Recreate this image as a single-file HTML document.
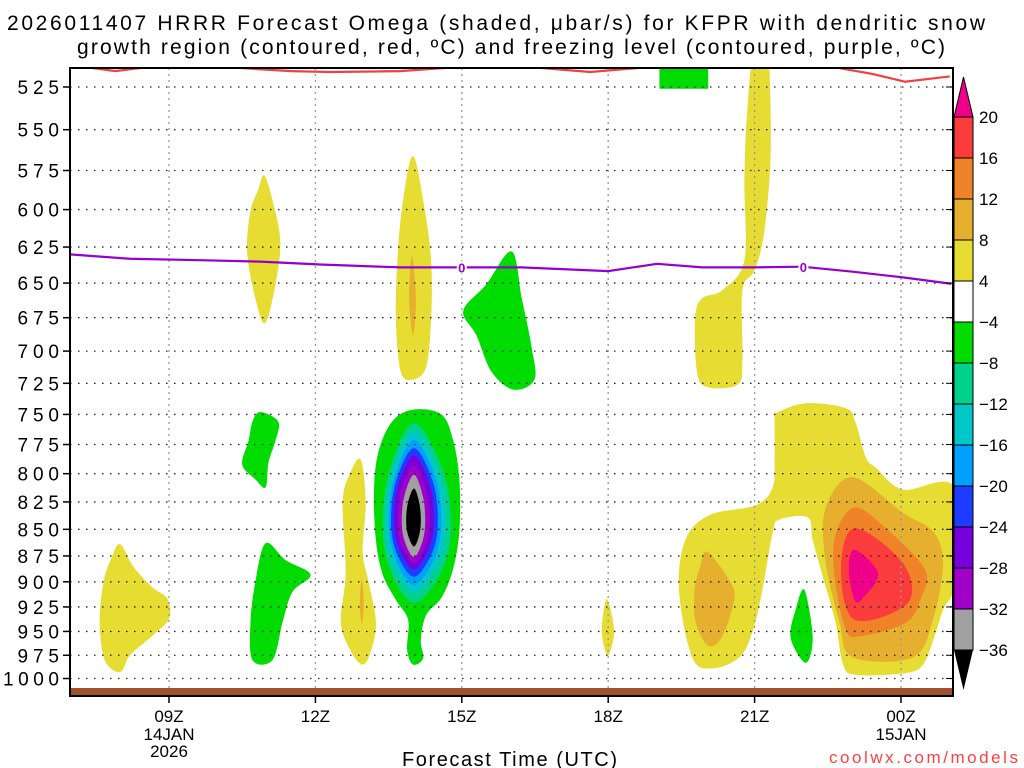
<!DOCTYPE html>
<html><head><meta charset="utf-8">
<style>
html,body{margin:0;padding:0;background:#fff;}
svg{display:block;font-family:"Liberation Sans",sans-serif;}
</style></head>
<body>
<svg id="chart" width="1024" height="768" viewBox="0 0 1024 768" xmlns="http://www.w3.org/2000/svg">
<text x="7" y="30" font-size="21" textLength="978" lengthAdjust="spacing">2026011407 HRRR Forecast Omega (shaded, μbar/s) for KFPR with dendritic snow</text>
<text x="77" y="54" font-size="21" textLength="868" lengthAdjust="spacing">growth region (contoured, red, ºC) and freezing level (contoured, purple, ºC)</text>
<defs><clipPath id="pc"><rect x="70" y="68" width="883" height="628"/></clipPath></defs>
<g id="fills" clip-path="url(#pc)"></g>
<g id="grid"></g>
<g id="lines" clip-path="url(#pc)"></g>
<g id="axes"></g>
<g id="cbar"></g>
<text x="402" y="766" font-size="20" textLength="215" lengthAdjust="spacing">Forecast Time (UTC)</text>
<text x="829" y="763" font-size="17" fill="#ff4040" textLength="189" lengthAdjust="spacing">coolwx.com/models</text>
</svg>
<script>
// ---- data ----
const pressureTicks=[525,550,575,600,625,650,675,700,725,750,775,800,825,850,875,900,925,950,975,1000];
const hourTicks=[9,12,15,18,21,24];
const hourLabels=["09Z","12Z","15Z","18Z","21Z","00Z"];
const cbarLabels=["20","16","12","8","4","-4","-8","-12","-16","-20","-24","-28","-32","-36"];
const cbarColors=["#fa3c3c","#f08228","#e6af2d","#e6dc32","#ffffff","#00dc00","#00d28c","#00c8c8","#00a0ff","#1e3cff","#7800dc","#a000c8","#a0a0a0"];
const shapes=[
 {c:"#e6dc32",n:"omega-pos-08z",pts:[[8.0,864],[8.28,886],[8.65,905],[8.97,917],[9.0,937],[8.65,955],[8.2,975],[8.0,993],[7.68,980],[7.58,940],[7.66,900],[7.83,876]]},
 {c:"#e6dc32",n:"omega-pos-11z-upper",pts:[[10.95,578],[11.12,594],[11.28,621],[11.18,651],[10.97,679],[10.77,661],[10.6,628],[10.67,601],[10.83,587]]},
 {c:"#e6dc32",n:"omega-pos-14z-upper",pts:[[14.0,566],[14.21,594],[14.37,634],[14.37,676],[14.27,712],[14.0,722],[13.75,716],[13.65,676],[13.69,628],[13.81,591]]},
 {c:"#e6af2d",n:"omega-pos-14z-core",pts:[[13.98,631],[14.06,661],[14.0,688],[13.92,661]]},
 {c:"#00dc00",n:"omega-neg-16z",pts:[[16.02,628],[16.23,661],[16.43,697],[16.49,722],[16.06,730],[15.61,716],[15.3,688],[15.03,670],[15.5,651]]},
 {c:"#00dc00",n:"omega-neg-11z-mid",pts:[[10.87,748],[11.24,756],[11.18,772],[11.04,790],[10.98,812],[10.77,805],[10.5,792],[10.63,772],[10.71,756]]},
 {c:"#00dc00",n:"omega-neg-11z-low",pts:[[10.98,863],[11.39,879],[11.9,893],[11.53,910],[11.33,940],[11.12,980],[10.71,980],[10.67,940],[10.77,900]]},
 {c:"#e6dc32",n:"omega-pos-13z",pts:[[12.93,788],[13.03,825],[12.97,871],[13.09,900],[13.24,940],[13.14,970],[12.97,985],[12.72,970],[12.52,940],[12.62,891],[12.56,825],[12.72,799]]},
 {c:"#e6af2d",n:"omega-pos-13z-core",pts:[[12.95,898],[12.99,920],[12.95,942],[12.91,920]]},
 {c:"#00dc00",n:"omega-neg-14z-outer",pts:[[14.02,746],[14.58,750],[14.82,771],[14.95,805],[14.95,851],[14.82,888],[14.58,916],[14.27,933],[14.16,959],[14.21,978],[14.0,985],[13.88,969],[13.9,938],[13.65,918],[13.38,893],[13.24,860],[13.2,814],[13.3,780],[13.59,755]]},
 {c:"#e6dc32",n:"omega-pos-22z",pts:[[21.43,749],[22.05,741],[22.87,745],[23.07,757],[23.28,786],[23.49,795],[24.04,814],[25.1,812],[25.1,900],[24.86,928],[24.66,959],[24.45,985],[24.1,994],[23.07,996],[22.81,984],[22.66,941],[22.4,895],[22.19,860],[22.09,839],[21.51,841],[21.37,853],[21.16,908],[20.96,950],[20.69,977],[20.13,989],[19.72,977],[19.45,908],[19.58,860],[20.07,837],[21.02,828],[21.37,812],[21.41,786],[21.41,752]]},
 {c:"#e6af2d",n:"omega-pos-20z-core",pts:[[20.03,871],[20.5,900],[20.58,918],[20.34,955],[20.05,965],[19.79,940],[19.77,908],[19.88,886]]},
 {c:"#e6af2d",n:"omega-pos-23z-8",pts:[[23.01,803],[24.04,835],[24.66,852],[24.86,882],[24.66,937],[24.25,977],[23.01,977],[22.74,941],[22.44,876],[22.46,830]]},
 {c:"#f08228",n:"omega-pos-23z-12",pts:[[23.05,830],[23.69,849],[24.49,888],[24.41,916],[24.1,941],[23.16,955],[22.87,948],[22.64,895],[22.66,855]]},
 {c:"#fa3c3c",n:"omega-pos-23z-16",pts:[[23.05,849],[24.04,882],[24.14,921],[23.05,938],[22.77,888]]},
 {c:"#f0008a",n:"omega-pos-23z-20",pts:[[23.05,869],[23.53,892],[23.22,916],[23.05,918],[22.93,888]]},
 {c:"#00dc00",n:"omega-neg-22z",pts:[[22.02,908],[22.19,956],[22.05,983],[21.74,957],[21.84,928]]},
 {c:"#e6dc32",n:"omega-pos-18z",pts:[[17.97,917],[18.12,950],[17.99,975],[17.87,950]]},
 {c:"#e6dc32",n:"omega-pos-21z-plume",pts:[[21.0,500],[21.26,500],[21.33,562],[21.2,614],[21.0,641],[20.75,655],[20.75,707],[20.65,726],[20.03,728],[19.82,716],[19.78,676],[19.92,661],[20.34,655],[20.79,634],[20.79,581],[20.85,538]]}
];
// nested rings of the 14Z ascent core: [top p, bottom p, left hour, right hour]
const ringCenter=14.02;
const ringTop=[757,764,771,778,784,793,801,813];
const ringBot=[921,911,903,895,888,882,876,866];
const ringLeft=[13.38,13.44,13.51,13.55,13.61,13.69,13.77,13.86];
const ringRight=[14.78,14.68,14.58,14.51,14.43,14.33,14.25,14.16];
const ringColors=["#00d28c","#00c8c8","#00a0ff","#1e3cff","#7800dc","#a000c8","#a0a0a0","#000000"];
const greenBox={h0:19.05,h1:20.05,p0:500,p1:526};
const redSegs=[
 [[7.36,514],[7.9,516],[8.49,514]],
 [[10.31,514],[11.5,516],[12.3,516.5],[13.73,516],[15.05,513.5]],
 [[16.52,514],[17.63,516.5],[18.71,514]],
 [[22.67,514],[23.4,517.5],[24.08,522],[25.0,519]]
];
const frzHours=[6.96,8.2,9.64,10.87,12.1,13.75,14.99,16.22,18.0,19.0,19.93,21.0,21.98,23.01,24.04,25.03];
const frzPres=[630,633,634,635,637,639,639,639,641.6,636.5,639,639,638.5,642,646,650.5];
const frzLabelHours=[15.0,22.0];

// ---- scales ----
const X=h=>169+(h-9)*48.8;
const Y=p=>87+Math.log(p/525)*918;
const NS="http://www.w3.org/2000/svg";
function mk(tag,parent){const e=document.createElementNS(NS,tag);parent.appendChild(e);return e;}
function smooth(pts){
 const P=pts.map(q=>[X(q[0]),Y(q[1])]);const n=P.length;let d="M"+P[0][0].toFixed(1)+","+P[0][1].toFixed(1);
 for(let i=0;i<n;i++){const p0=P[(i-1+n)%n],p1=P[i],p2=P[(i+1)%n],p3=P[(i+2)%n];
  const c1=[p1[0]+(p2[0]-p0[0])/6,p1[1]+(p2[1]-p0[1])/6],c2=[p2[0]-(p3[0]-p1[0])/6,p2[1]-(p3[1]-p1[1])/6];
  d+="C"+c1[0].toFixed(1)+","+c1[1].toFixed(1)+" "+c2[0].toFixed(1)+","+c2[1].toFixed(1)+" "+p2[0].toFixed(1)+","+p2[1].toFixed(1);}
 return d+"Z";}
const fills=document.getElementById('fills');
shapes.forEach(s=>{const e=mk('path',fills);e.setAttribute('d',smooth(s.pts));e.setAttribute('fill',s.c);
 
 
 if(s.n==='omega-neg-14z-outer'){
  ringTop.forEach((t,i)=>{const b=ringBot[i],mid=(t+b)/2+(b-t)*0.04;
   const hr=ringCenter+(ringRight[i]-ringCenter)*0.78,hl=ringCenter+(ringLeft[i]-ringCenter)*0.78;
   const r=mk('path',fills);r.setAttribute('d',smooth([[ringCenter,t],[hr,t+(mid-t)*0.45],[ringRight[i],mid],[hr,mid+(b-mid)*0.55],[ringCenter,b],[hl,mid+(b-mid)*0.55],[ringLeft[i],mid],[hl,t+(mid-t)*0.45]]));
   r.setAttribute('fill',ringColors[i]);
   
   });
 }});
{const r=mk('rect',fills);r.setAttribute('x',X(greenBox.h0));r.setAttribute('y',Y(greenBox.p0));r.setAttribute('width',X(greenBox.h1)-X(greenBox.h0));r.setAttribute('height',Y(greenBox.p1)-Y(greenBox.p0));r.setAttribute('fill','#00dc00');
 
 }
{const r=mk('rect',fills);r.setAttribute('x',70);r.setAttribute('y',688);r.setAttribute('width',883);r.setAttribute('height',8);r.setAttribute('fill','#a0522d');
 
 }
// grid
const grid=document.getElementById('grid');
pressureTicks.forEach(p=>{const l=mk('line',grid);l.setAttribute('x1',70);l.setAttribute('x2',953);l.setAttribute('y1',Y(p));l.setAttribute('y2',Y(p));l.setAttribute('stroke','#222');l.setAttribute('stroke-width','1.3');l.setAttribute('stroke-dasharray','1.5 6.5');
 
 });
hourTicks.forEach(h=>{const l=mk('line',grid);l.setAttribute('x1',X(h));l.setAttribute('x2',X(h));l.setAttribute('y1',68);l.setAttribute('y2',688);l.setAttribute('stroke','#999');l.setAttribute('stroke-width','1.3');l.setAttribute('stroke-dasharray','2 4');
 
 });
// lines
const lines=document.getElementById('lines');
redSegs.forEach(seg=>{const l=mk('polyline',lines);l.setAttribute('points',seg.map(q=>X(q[0])+','+Y(q[1])).join(' '));l.setAttribute('fill','none');l.setAttribute('stroke','#f04040');l.setAttribute('stroke-width','2.2');
 
 });
{const l=mk('polyline',lines);l.setAttribute('points',frzHours.map((h,i)=>X(h)+','+Y(frzPres[i])).join(' '));l.setAttribute('fill','none');l.setAttribute('stroke','#9400d0');l.setAttribute('stroke-width','2.2');
 
 }
frzLabelHours.forEach(h=>{let i=0;while(i<frzHours.length-2&&frzHours[i+1]<h)i++;const t=(h-frzHours[i])/(frzHours[i+1]-frzHours[i]);const p=frzPres[i]+t*(frzPres[i+1]-frzPres[i]);
 const bg=mk('rect',lines);bg.setAttribute('x',X(h)-5);bg.setAttribute('y',Y(p)-6);bg.setAttribute('width',10);bg.setAttribute('height',12);bg.setAttribute('fill','#fff');
 
 
 const tx=mk('text',lines);tx.setAttribute('x',X(h));tx.setAttribute('y',Y(p)+5);tx.setAttribute('text-anchor','middle');tx.setAttribute('font-size','13');tx.setAttribute('font-weight','bold');tx.setAttribute('fill','#9400d0');tx.textContent='0';
 
 });
// axes
const ax=document.getElementById('axes');
{const r=mk('rect',ax);r.setAttribute('x',70);r.setAttribute('y',68);r.setAttribute('width',883);r.setAttribute('height',628);r.setAttribute('fill','none');r.setAttribute('stroke','#000');r.setAttribute('stroke-width','2');
 
 }
pressureTicks.forEach(p=>{const l=mk('line',ax);l.setAttribute('x1',63);l.setAttribute('x2',70);l.setAttribute('y1',Y(p));l.setAttribute('y2',Y(p));l.setAttribute('stroke','#000');l.setAttribute('stroke-width','1.5');
 
 
 const r=mk('line',ax);r.setAttribute('x1',946);r.setAttribute('x2',953);r.setAttribute('y1',Y(p));r.setAttribute('y2',Y(p));r.setAttribute('stroke','#000');
 
 
 const s=String(p);const w=s.length*14.5;
 const t=mk('text',ax);t.setAttribute('x',61-w);t.setAttribute('y',Y(p)+7);t.setAttribute('font-size','19');t.setAttribute('textLength',w-2);t.setAttribute('lengthAdjust','spacing');t.textContent=s;
 
 });
hourTicks.forEach((h,i)=>{const l=mk('line',ax);l.setAttribute('x1',X(h));l.setAttribute('x2',X(h));l.setAttribute('y1',696);l.setAttribute('y2',703);l.setAttribute('stroke','#000');l.setAttribute('stroke-width','1.5');
 
 
 const t=mk('text',ax);t.setAttribute('x',X(h));t.setAttribute('y',722);t.setAttribute('text-anchor','middle');t.setAttribute('font-size','17');t.textContent=hourLabels[i];
 
 });
[[9,"14JAN",740],[9,"2026",757],[24,"15JAN",740]].forEach(d=>{const t=mk('text',ax);t.setAttribute('x',X(d[0]));t.setAttribute('y',d[2]);t.setAttribute('text-anchor','middle');t.setAttribute('font-size','17');t.textContent=d[1];
 
 });
// colorbar
const cb=document.getElementById('cbar');
const cx=954,cw=19,ct=117,ch=41;
{const tri=mk('polygon',cb);tri.setAttribute('points',`${cx},${ct} ${cx+cw/2},77 ${cx+cw},${ct}`);tri.setAttribute('fill','#f0008a');tri.setAttribute('stroke','#000');
 
 }
cbarColors.forEach((c,i)=>{const r=mk('rect',cb);r.setAttribute('x',cx);r.setAttribute('y',ct+i*ch);r.setAttribute('width',cw);r.setAttribute('height',ch);r.setAttribute('fill',c);r.setAttribute('stroke','#000');
 
 });
{const yb=ct+cbarColors.length*ch;const tri=mk('polygon',cb);tri.setAttribute('points',`${cx},${yb} ${cx+cw/2},${yb+40} ${cx+cw},${yb}`);tri.setAttribute('fill','#000');
 
 }
cbarLabels.forEach((s,i)=>{const t=mk('text',cb);t.setAttribute('x',979);t.setAttribute('y',ct+i*ch+6);t.setAttribute('font-size','17');t.textContent=s.replace('-','−');
 
 });
</script>
</body></html>
